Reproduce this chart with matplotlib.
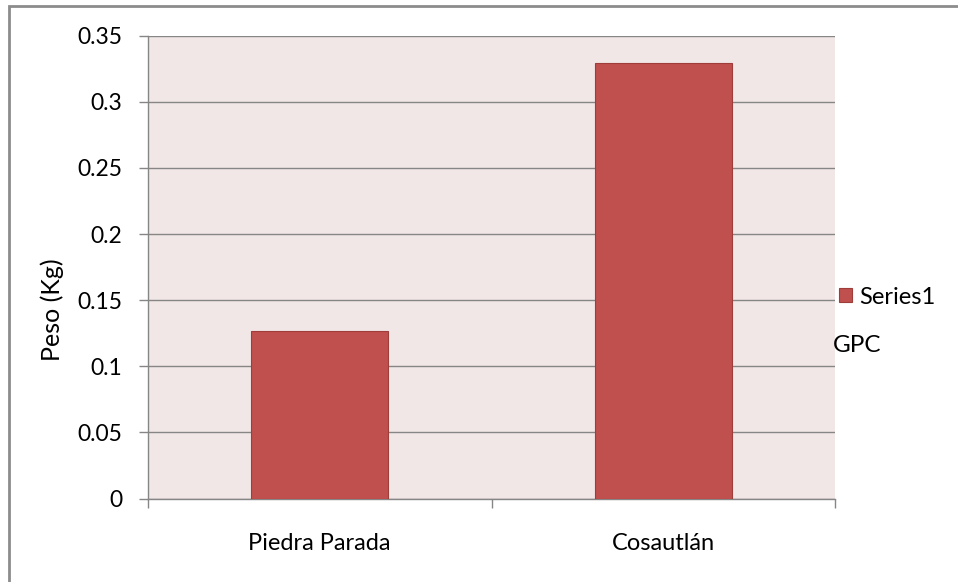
import numpy as np
import matplotlib.pyplot as plt
from matplotlib.patches import Rectangle

categories = ["Piedra Parada", "Cosautlán"]
values = [0.127, 0.329]
yticks = [0, 0.05, 0.1, 0.15, 0.2, 0.25, 0.3, 0.35]
ytick_labels = ["0", "0.05", "0.1", "0.15", "0.2", "0.25", "0.3", "0.35"]

plt.rcParams['font.family'] = ['Lato', 'DejaVu Sans']

W, H = 958, 582
fig = plt.figure(figsize=(W / 100, H / 100), dpi=100)
ax = fig.add_axes([148 / W, 1 - 498.5 / H, (835 - 148) / W, (498.5 - 35.7) / H])

grid_col = "#868686"
ax.set_facecolor("#F2E7E7")
x = np.arange(len(categories)) + 0.5
ax.bar(x, values, width=0.4, color="#C0504D", edgecolor="#9E3D3A", linewidth=0.8,
       zorder=3, label="Series1")

ax.set_xlim(0, 2)
ax.set_ylim(0, 0.35)
ax.set_yticks(yticks)
ax.set_yticklabels(ytick_labels, fontsize=16.5)
ax.yaxis.grid(True, color=grid_col, linewidth=1, zorder=1)
ax.set_xticks([0, 1, 2])
ax.set_xticklabels([])
ax.set_xticks(x, minor=True)
ax.set_xticklabels(categories, minor=True, fontsize=17)
ax.tick_params(axis='x', which='major', direction='out', length=6.5, color=grid_col, width=1)
ax.tick_params(axis='x', which='minor', length=0, pad=25)
ax.tick_params(axis='y', direction='out', length=6.5, color=grid_col, width=1, pad=12)

for s in ["top", "right"]:
    ax.spines[s].set_visible(False)
for s in ["left", "bottom"]:
    ax.spines[s].set_color(grid_col)
    ax.spines[s].set_linewidth(1)

# label sits a bit below the middle of the axis, as in the original
ax.set_ylabel("Peso (Kg)", fontsize=18)
ax.yaxis.set_label_coords((64 - 148) / 687, (498.5 - 310) / 462.8)

fig.legend(loc="center left", bbox_to_anchor=(839 / W, 1 - 297 / H), frameon=False,
           fontsize=17, handlelength=0.55, handleheight=0.55, handletextpad=0.3,
           borderpad=0, borderaxespad=0)
fig.text(833 / W, 1 - 345 / H, "GPC", fontsize=17.5, va="center", ha="left")

border = Rectangle((9 / W, -0.1), 1.2, 1 - 6 / H + 0.1, transform=fig.transFigure,
                   fill=False, edgecolor="#8C8C8C", linewidth=2)
fig.patches.append(border)

fig.savefig("out.png", dpi=100)
